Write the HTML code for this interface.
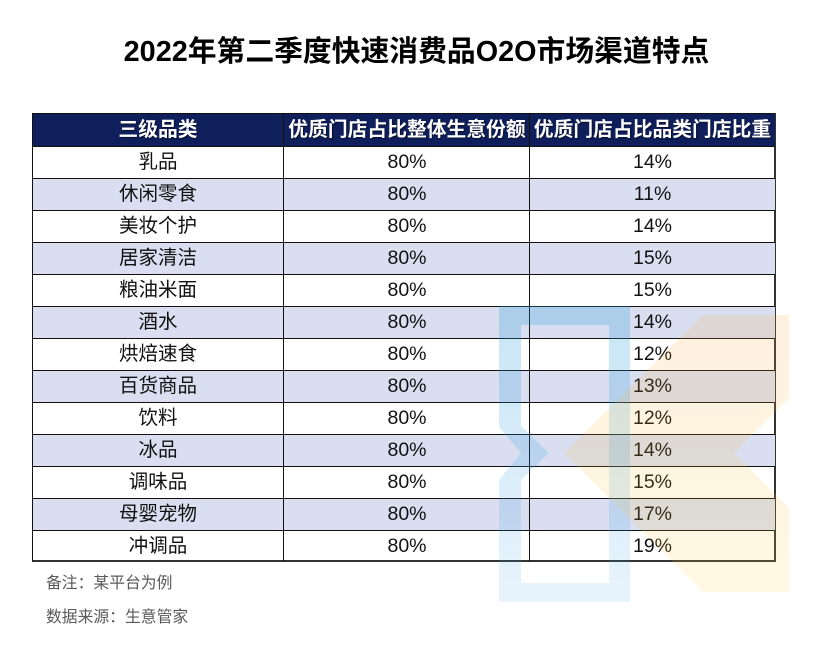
<!DOCTYPE html>
<html>
<head>
<meta charset="utf-8">
<style>
  html, body { margin:0; padding:0; background:#fff; }
  body { width:833px; height:660px; position:relative; overflow:hidden;
         font-family:"Liberation Sans","Noto Sans CJK SC",sans-serif; color:#000; }
  .title { position:absolute; left:0; width:833px; top:32px; text-align:center;
           font-size:28.8px; font-weight:bold; line-height:40px; letter-spacing:0; }
  .tbl { position:absolute; left:32px; top:113px; width:744px; height:449px;
         box-sizing:border-box; border:1px solid #111; border-right:2px solid #333; border-bottom:2px solid #333; }
  .row { position:absolute; left:0; width:742px; height:32px; box-sizing:border-box; }
  .row .c { position:absolute; top:0; height:32px; line-height:32px; text-align:center; font-size:19.5px; color:#111; }
  .c1 { left:0; width:250px; }
  .c2 { left:251px; width:246px; }
  .c3 { left:497px; width:245px; }
  .hdr { background:#0f1f5c; }
  .hdr .c { font-weight:bold; font-size:19.8px; color:#fff; text-shadow:1px 1px 1px rgba(0,0,0,0.5); }
  .alt { background:#d9dff1; }
  .hl { position:absolute; left:0; width:742px; height:1px; background:#111; }
  .vl { position:absolute; top:0; width:1px; height:447px; background:#111; }
  .note { position:absolute; left:46px; font-size:15.8px; color:#595959; line-height:20px; }
</style>
</head>
<body>
<div class="title">2022年第二季度快速消费品O2O市场渠道特点</div>

<div class="tbl">
  <div class="row hdr" style="top:0;"><div class="c c1">三级品类</div><div class="c c2">优质门店占比整体生意份额</div><div class="c c3">优质门店占比品类门店比重</div></div>
  <div class="row" style="top:32px;"><div class="c c1">乳品</div><div class="c c2">80%</div><div class="c c3">14%</div></div>
  <div class="row alt" style="top:64px;"><div class="c c1">休闲零食</div><div class="c c2">80%</div><div class="c c3">11%</div></div>
  <div class="row" style="top:96px;"><div class="c c1">美妆个护</div><div class="c c2">80%</div><div class="c c3">14%</div></div>
  <div class="row alt" style="top:128px;"><div class="c c1">居家清洁</div><div class="c c2">80%</div><div class="c c3">15%</div></div>
  <div class="row" style="top:160px;"><div class="c c1">粮油米面</div><div class="c c2">80%</div><div class="c c3">15%</div></div>
  <div class="row alt" style="top:192px;"><div class="c c1">酒水</div><div class="c c2">80%</div><div class="c c3">14%</div></div>
  <div class="row" style="top:224px;"><div class="c c1">烘焙速食</div><div class="c c2">80%</div><div class="c c3">12%</div></div>
  <div class="row alt" style="top:256px;"><div class="c c1">百货商品</div><div class="c c2">80%</div><div class="c c3">13%</div></div>
  <div class="row" style="top:288px;"><div class="c c1">饮料</div><div class="c c2">80%</div><div class="c c3">12%</div></div>
  <div class="row alt" style="top:320px;"><div class="c c1">冰品</div><div class="c c2">80%</div><div class="c c3">14%</div></div>
  <div class="row" style="top:352px;"><div class="c c1">调味品</div><div class="c c2">80%</div><div class="c c3">15%</div></div>
  <div class="row alt" style="top:384px;"><div class="c c1">母婴宠物</div><div class="c c2">80%</div><div class="c c3">17%</div></div>
  <div class="row" style="top:416px;"><div class="c c1">冲调品</div><div class="c c2">80%</div><div class="c c3">19%</div></div>

  <div class="hl" style="top:32px;"></div>
  <div class="hl" style="top:64px;"></div>
  <div class="hl" style="top:96px;"></div>
  <div class="hl" style="top:128px;"></div>
  <div class="hl" style="top:160px;"></div>
  <div class="hl" style="top:192px;"></div>
  <div class="hl" style="top:224px;"></div>
  <div class="hl" style="top:256px;"></div>
  <div class="hl" style="top:288px;"></div>
  <div class="hl" style="top:320px;"></div>
  <div class="hl" style="top:352px;"></div>
  <div class="hl" style="top:384px;"></div>
  <div class="hl" style="top:416px;"></div>
  <div class="vl" style="left:250px;"></div>
  <div class="vl" style="left:496px;"></div>
</div>

<svg width="833" height="660" style="position:absolute;left:0;top:0;pointer-events:none;">
  <defs>
    <linearGradient id="gb" x1="0" y1="0" x2="0" y2="1">
      <stop offset="0" stop-color="rgb(40,155,215)" stop-opacity="0.26"/>
      <stop offset="1" stop-color="rgb(60,160,230)" stop-opacity="0.12"/>
    </linearGradient>
    <linearGradient id="go" x1="0" y1="0" x2="0" y2="1">
      <stop offset="0" stop-color="rgb(247,165,55)" stop-opacity="0.16"/>
      <stop offset="1" stop-color="rgb(255,210,60)" stop-opacity="0.15"/>
    </linearGradient>
  </defs>
  <path fill="url(#gb)" fill-rule="evenodd"
        d="M499,306 H630 V602 H499 V480 L521,453 L499,427 Z
           M521,325 H609 V583 H521 V480 L549,453 L521,426 Z"/>
  <path fill="url(#go)" d="M703,315 H789 V398 L734,453 L789,508 V592 H703 L564,453 Z"/>
</svg>

<div class="note" style="top:574px;">备注：某平台为例</div>
<div class="note" style="top:608px;">数据来源：生意管家</div>
</body>
</html>
